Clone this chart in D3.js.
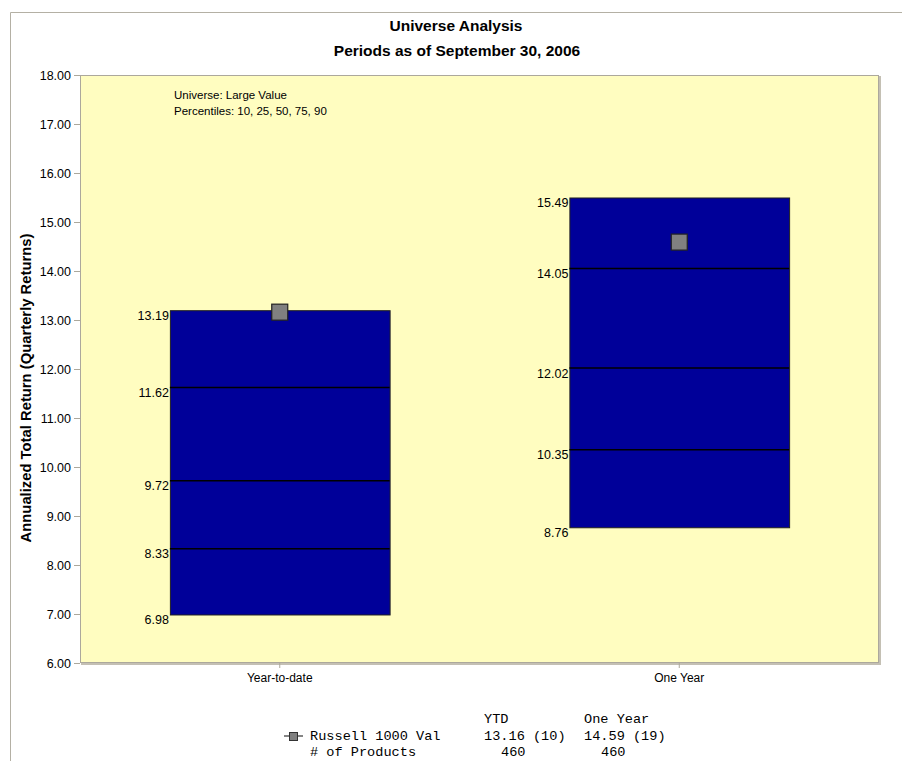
<!DOCTYPE html>
<html><head><meta charset="utf-8">
<script src="https://cdn.jsdelivr.net/npm/d3@7"></script>
<style>
html,body{margin:0;padding:0;background:#fff;}
svg{display:block;}
text{font-family:Arial,"Liberation Sans",sans-serif;fill:#000;}
.mono{font-family:"Courier New","Liberation Mono",monospace;font-size:13.6px;}
</style></head>
<body>
<script>
const categories = ["Year-to-date", "One Year"];
const p90 = [13.19, 15.49];
const p75 = [11.62, 14.05];
const p50 = [9.72, 12.02];
const p25 = [8.33, 10.35];
const p10 = [6.98, 8.76];
const benchmark = [13.16, 14.59];
const benchmarkName = "Russell 1000 Val";
const benchmarkRanks = [10, 19];
const productCounts = [460, 460];
const tableHeaders = ["YTD", "One Year"];
const yTicks = [6, 7, 8, 9, 10, 11, 12, 13, 14, 15, 16, 17, 18];

const W = 902, H = 761;
const plot = {l: 80, t: 75, r: 879, b: 663};

const svg = d3.select("body").append("svg").attr("width", W).attr("height", H);

// outer frame
svg.append("path").attr("d", `M10.5,${H} V12.5 H${W}`).attr("fill", "none").attr("stroke", "#b4b0a4").attr("stroke-width", 1);

// titles
svg.append("text").attr("x", 456).attr("y", 31).attr("text-anchor", "middle")
  .style("font-size", "15.5px").style("font-weight", "bold").text("Universe Analysis");
svg.append("text").attr("x", 457).attr("y", 56).attr("text-anchor", "middle")
  .style("font-size", "15.5px").style("font-weight", "bold").text("Periods as of September 30, 2006");

const y = d3.scaleLinear().domain([6, 18]).range([plot.b, plot.t]);
const x = d3.scaleBand().domain(categories).range([plot.l, plot.r]).paddingInner(0.45).paddingOuter(0.225);

// plot background with shadow
svg.append("rect").attr("x", plot.l + 1).attr("y", plot.t + 1).attr("width", plot.r - plot.l + 1).attr("height", plot.b - plot.t + 1)
  .attr("fill", "#c4c0b4");
svg.append("rect").attr("x", plot.l + 0.5).attr("y", plot.t + 0.5).attr("width", plot.r - plot.l - 1).attr("height", plot.b - plot.t - 1)
  .attr("fill", "#fffdc0").attr("stroke", "#aca89c").attr("stroke-width", 1);

// y axis
const yAxis = d3.axisLeft(y).tickValues(yTicks).tickFormat(d3.format(".2f")).tickSize(6).tickPadding(3);
const ya = svg.append("g").attr("transform", `translate(${plot.l},0)`).call(yAxis);
ya.select(".domain").remove();
ya.selectAll(".tick line").attr("stroke", "#aca89c");
ya.selectAll(".tick text").style("font-size", "12.5px").style("font-family", "Arial, 'Liberation Sans', sans-serif").attr("fill", "#000");

// x axis
const xAxis = d3.axisBottom(x).tickSize(5).tickPadding(5);
const xa = svg.append("g").attr("transform", `translate(0,${plot.b})`).call(xAxis);
xa.select(".domain").remove();
xa.selectAll(".tick line").attr("stroke", "#aca89c");
xa.selectAll(".tick text").style("font-size", "12px").style("font-family", "Arial, 'Liberation Sans', sans-serif").attr("fill", "#000");

// y title
svg.append("text").attr("transform", `translate(31,388) rotate(-90)`).attr("text-anchor", "middle")
  .style("font-size", "14.8px").style("font-weight", "bold").text("Annualized Total Return (Quarterly Returns)");

// annotation
svg.append("text").attr("x", 174).attr("y", 99).style("font-size", "11.5px").text("Universe: Large Value");
svg.append("text").attr("x", 174).attr("y", 115).style("font-size", "11.5px").text("Percentiles: 10, 25, 50, 75, 90");

// bars
const rows = categories.map((c, i) => ({c, p90: p90[i], p75: p75[i], p50: p50[i], p25: p25[i], p10: p10[i], b: benchmark[i]}));
const g = svg.append("g");
rows.forEach(r => {
  const bx = x(r.c), bw = x.bandwidth();
  g.append("rect").attr("x", bx + 0.5).attr("y", y(r.p90)).attr("width", bw).attr("height", y(r.p10) - y(r.p90))
    .attr("fill", "#000099").attr("stroke", "#222").attr("stroke-width", 1);
  [r.p75, r.p50, r.p25].forEach(v => {
    g.append("line").attr("x1", bx).attr("x2", bx + bw).attr("y1", y(v)).attr("y2", y(v))
      .attr("stroke", "#000").attr("stroke-width", 1.5);
  });
  [r.p90, r.p75, r.p50, r.p25, r.p10].forEach(v => {
    g.append("text").attr("x", bx - 1).attr("y", y(v) + 9.5).attr("text-anchor", "end")
      .style("font-size", "12.5px").text(v.toFixed(2));
  });
  const cx = bx + bw / 2;
  g.append("rect").attr("x", cx - 8).attr("y", y(r.b) - 8).attr("width", 16).attr("height", 16)
    .attr("fill", "#808080").attr("stroke", "#222").attr("stroke-width", 1.2);
});

// bottom table
const colX = [484, 584];
const t = svg.append("g").attr("class", "tbl");
tableHeaders.forEach((h, i) => {
  t.append("text").attr("class", "mono").attr("x", colX[i]).attr("y", 723).text(h);
});
t.append("line").attr("x1", 284).attr("x2", 303).attr("y1", 736).attr("y2", 736).attr("stroke", "#333").attr("stroke-width", 1.2);
t.append("rect").attr("x", 289.5).attr("y", 732.5).attr("width", 8).attr("height", 8).attr("fill", "#808080").attr("stroke", "#333");
t.append("text").attr("class", "mono").attr("x", 310).attr("y", 740).text(benchmarkName);
benchmark.forEach((v, i) => {
  t.append("text").attr("class", "mono").attr("x", colX[i]).attr("y", 740).text(`${v.toFixed(2)} (${benchmarkRanks[i]})`);
});
t.append("text").attr("class", "mono").attr("x", 310).attr("y", 756).text("# of Products");
productCounts.forEach((v, i) => {
  t.append("text").attr("class", "mono").attr("x", colX[i] + 17).attr("y", 756).text(String(v));
});
</script>
</body></html>
